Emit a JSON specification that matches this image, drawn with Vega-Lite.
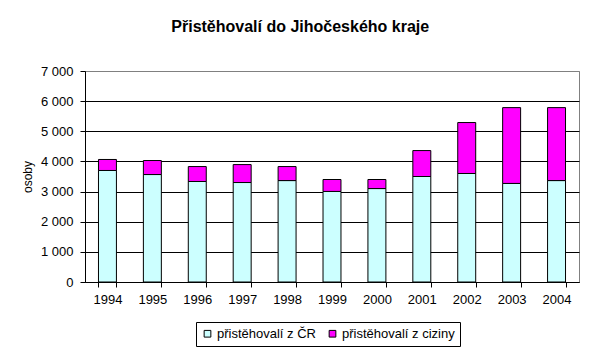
{
  "$schema": "https://vega.github.io/schema/vega-lite/v6.json",
  "width": 494,
  "height": 211,
  "autosize": {"type": "none"},
  "padding": {"left": 85, "top": 71, "right": 16, "bottom": 76},
  "background": "white",
  "title": {
    "text": "Přistěhovalí do Jihočeského kraje",
    "font": "Liberation Sans",
    "fontSize": 16,
    "fontWeight": "bold",
    "color": "black",
    "anchor": "middle",
    "frame": "bounds",
    "offset": 30
  },
  "config": {
    "view": {"stroke": "#808080", "strokeWidth": 1},
    "font": "Liberation Sans"
  },
  "data": {
    "values": [
      {"rok": "1994", "skupina": "přistěhovalí  z ČR", "ord": 1, "osoby": 3700},
      {"rok": "1995", "skupina": "přistěhovalí  z ČR", "ord": 1, "osoby": 3565},
      {"rok": "1996", "skupina": "přistěhovalí  z ČR", "ord": 1, "osoby": 3335},
      {"rok": "1997", "skupina": "přistěhovalí  z ČR", "ord": 1, "osoby": 3300},
      {"rok": "1998", "skupina": "přistěhovalí  z ČR", "ord": 1, "osoby": 3365},
      {"rok": "1999", "skupina": "přistěhovalí  z ČR", "ord": 1, "osoby": 3005},
      {"rok": "2000", "skupina": "přistěhovalí  z ČR", "ord": 1, "osoby": 3100},
      {"rok": "2001", "skupina": "přistěhovalí  z ČR", "ord": 1, "osoby": 3500},
      {"rok": "2002", "skupina": "přistěhovalí  z ČR", "ord": 1, "osoby": 3600},
      {"rok": "2003", "skupina": "přistěhovalí  z ČR", "ord": 1, "osoby": 3270},
      {"rok": "2004", "skupina": "přistěhovalí  z ČR", "ord": 1, "osoby": 3365},
      {"rok": "1994", "skupina": "přistěhovalí z ciziny", "ord": 2, "osoby": 365},
      {"rok": "1995", "skupina": "přistěhovalí z ciziny", "ord": 2, "osoby": 465},
      {"rok": "1996", "skupina": "přistěhovalí z ciziny", "ord": 2, "osoby": 495},
      {"rok": "1997", "skupina": "přistěhovalí z ciziny", "ord": 2, "osoby": 595},
      {"rok": "1998", "skupina": "přistěhovalí z ciziny", "ord": 2, "osoby": 465},
      {"rok": "1999", "skupina": "přistěhovalí z ciziny", "ord": 2, "osoby": 395},
      {"rok": "2000", "skupina": "přistěhovalí z ciziny", "ord": 2, "osoby": 300},
      {"rok": "2001", "skupina": "přistěhovalí z ciziny", "ord": 2, "osoby": 860},
      {"rok": "2002", "skupina": "přistěhovalí z ciziny", "ord": 2, "osoby": 1690},
      {"rok": "2003", "skupina": "přistěhovalí z ciziny", "ord": 2, "osoby": 2515},
      {"rok": "2004", "skupina": "přistěhovalí z ciziny", "ord": 2, "osoby": 2420}
    ]
  },
  "mark": {"type": "bar", "stroke": "black", "strokeWidth": 1, "opacity": 1},
  "encoding": {
    "x": {
      "field": "rok",
      "type": "ordinal",
      "scale": {"paddingInner": 0.6, "paddingOuter": 0.3},
      "axis": {
        "title": null,
        "labelAngle": 0,
        "labelFontSize": 13,
        "labelColor": "black",
        "labelPadding": 6,
        "tickBand": "extent",
        "tickSize": 5,
        "tickColor": "black",
        "domainColor": "black",
        "grid": false
      }
    },
    "y": {
      "field": "osoby",
      "type": "quantitative",
      "stack": "zero",
      "scale": {"domain": [0, 7000], "nice": false},
      "axis": {
        "title": "osoby",
        "titleFontSize": 12,
        "titleFontWeight": "normal",
        "titleColor": "black",
        "titlePadding": 6,
        "values": [0, 1000, 2000, 3000, 4000, 5000, 6000, 7000],
        "labelExpr": "replace(format(datum.value, ','), ',', ' ')",
        "labelFontSize": 13,
        "labelColor": "black",
        "labelPadding": 7,
        "tickSize": 5,
        "tickColor": "black",
        "domainColor": "black",
        "grid": true,
        "gridColor": {"condition": {"test": "datum.value === 7000", "value": "#808080"}, "value": "black"},
        "gridOpacity": 1
      }
    },
    "color": {
      "field": "skupina",
      "type": "nominal",
      "scale": {"domain": ["přistěhovalí  z ČR", "přistěhovalí z ciziny"], "range": ["#CCFFFF", "#FF00FF"]},
      "legend": {
        "title": null,
        "orient": "none",
        "legendX": 111,
        "legendY": 251,
        "direction": "horizontal",
        "columns": 2,
        "columnPadding": 6,
        "padding": 5,
        "strokeColor": "black",
        "fillColor": "white",
        "symbolType": "square",
        "symbolSize": 45,
        "symbolStrokeColor": "black",
        "symbolStrokeWidth": 1,
        "symbolOpacity": 1,
        "labelFontSize": 13,
        "labelColor": "black",
        "labelOffset": 3
      }
    },
    "order": {"field": "ord", "type": "quantitative"}
  }
}
